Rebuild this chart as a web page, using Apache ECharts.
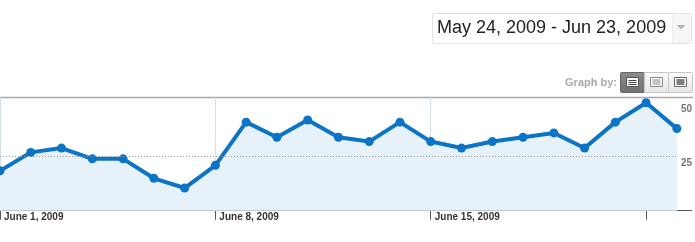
<!DOCTYPE html>
<html>
<head>
<meta charset="utf-8">
<script src="https://cdn.jsdelivr.net/npm/echarts@6/dist/echarts.min.js"></script>
<style>
html,body{margin:0;padding:0;background:#fff;overflow:hidden;}
#c{width:695px;height:242px;}
</style>
</head>
<body>
<div id="c"></div>
<script>
var categories = ['June 1, 2009','June 2, 2009','June 3, 2009','June 4, 2009','June 5, 2009','June 6, 2009','June 7, 2009',
  'June 8, 2009','June 9, 2009','June 10, 2009','June 11, 2009','June 12, 2009','June 13, 2009','June 14, 2009',
  'June 15, 2009','June 16, 2009','June 17, 2009','June 18, 2009','June 19, 2009','June 20, 2009','June 21, 2009',
  'June 22, 2009','June 23, 2009'];
var visits = [18.5, 27, 29, 24, 24, 15, 10.5, 21, 41, 34, 42, 34, 32, 41, 32, 29, 32, 34, 36, 29, 41, 50, 38];
var tickLabels = ['June 1, 2009', 'June 8, 2009', 'June 15, 2009'];
var yTicks = [25, 50];
var dottedLines = [25];
var dateRange = 'May 24, 2009 - Jun 23, 2009';
var graphByLabel = 'Graph by:';

var chart = echarts.init(document.getElementById('c'), null, {renderer: 'canvas'});

var FONT = '"Liberation Sans", Arial, sans-serif';

function listIcon(x, y, frame, fill, lineColor, rows, lw) {
  var els = [{type: 'rect', shape: {x: x, y: y, width: 12, height: 9}, style: {fill: fill, stroke: frame, lineWidth: 1}, z: 10}];
  rows.forEach(function (r) {
    els.push({type: 'line', shape: {x1: x + 2, y1: y + r, x2: x + 10, y2: y + r}, style: {stroke: lineColor, lineWidth: lw}, z: 11});
  });
  return els;
}

var lightGrad = new echarts.graphic.LinearGradient(0, 0, 0, 1, [{offset: 0, color: '#fbfbfb'}, {offset: 1, color: '#e6e6e6'}]);
var darkGrad = new echarts.graphic.LinearGradient(0, 0, 0, 1, [{offset: 0, color: '#8c8c8c'}, {offset: 1, color: '#707070'}]);

var graphics = [
  // date range box
  {type: 'rect', shape: {x: 432.5, y: 13.5, width: 259, height: 30, r: 2}, style: {fill: '#fff', stroke: '#e2e2e2', lineWidth: 1}},
  {type: 'rect', shape: {x: 672.5, y: 14, width: 18.5, height: 29}, style: {fill: '#f6f6f6'}},
  {type: 'line', shape: {x1: 672.5, y1: 14, x2: 672.5, y2: 43}, style: {stroke: '#ececec', lineWidth: 1}},
  {type: 'polygon', shape: {points: [[676.5, 25], [685.5, 25], [681, 29.5]]}, style: {fill: '#b5b5b5'}},
  {type: 'text', x: 437, y: 28, style: {text: dateRange, font: '18px ' + FONT, fill: '#222', textVerticalAlign: 'middle'}},
  // graph by
  {type: 'text', x: 617, y: 83, style: {text: graphByLabel, font: 'bold 11px ' + FONT, fill: '#aaa', textAlign: 'right', textVerticalAlign: 'middle'}},
  {type: 'rect', shape: {x: 620.5, y: 72.5, width: 24, height: 20, r: 1}, style: {fill: darkGrad, stroke: '#666', lineWidth: 1}},
  {type: 'rect', shape: {x: 644.5, y: 72.5, width: 24, height: 20}, style: {fill: lightGrad, stroke: '#c6c6c6', lineWidth: 1}},
  {type: 'rect', shape: {x: 668.5, y: 72.5, width: 24, height: 20, r: 1}, style: {fill: lightGrad, stroke: '#c6c6c6', lineWidth: 1}},
  // top border and bottom axis line
  {type: 'line', shape: {x1: 0, y1: 97.5, x2: 693, y2: 97.5}, style: {stroke: '#a8a8a8', lineWidth: 1.5}},
  {type: 'line', shape: {x1: 0, y1: 210.5, x2: 692, y2: 210.5}, style: {stroke: '#555', lineWidth: 1}}
];
graphics = graphics
  .concat(listIcon(626.5, 77.5, '#555', '#fff', '#444', [3, 5, 7], 1))
  .concat(listIcon(650.5, 77.5, '#888', '#fff', '#888', [2.5, 4.5, 6.5], 1))
  .concat(listIcon(674.5, 77.5, '#666', '#fff', '#555', [2.5, 4.5, 6.5], 1.5));

var option = {
  animation: false,
  grid: {left: 0, right: 17.7, top: 97.3, bottom: 31.3, containLabel: false},
  xAxis: {
    type: 'category',
    data: categories,
    boundaryGap: false,
    axisLine: {show: false},
    axisTick: {show: true, interval: 6, length: 9, lineStyle: {color: '#555', width: 1}},
    splitLine: {show: true, interval: 6, lineStyle: {color: '#d6dfe8', width: 1}},
    axisLabel: {
      interval: 6,
      align: 'left',
      margin: 2,
      padding: [0, 0, 0, 4],
      color: '#333',
      fontFamily: FONT,
      fontWeight: 'bold',
      fontSize: 10,
      formatter: function (v) { return tickLabels.indexOf(v) >= 0 ? v : ''; }
    }
  },
  yAxis: {
    type: 'value',
    position: 'right',
    min: 0,
    max: 52.5,
    interval: 25,
    axisLine: {show: false},
    axisTick: {show: false},
    splitLine: {show: false},
    axisLabel: {
      margin: 4,
      showMinLabel: false,
      showMaxLabel: false,
      verticalAlign: 'top',
      padding: [2, 0, 0, 0],
      color: '#777',
      fontFamily: FONT,
      fontWeight: 'bold',
      fontSize: 10,
      formatter: function (v) { return yTicks.indexOf(v) >= 0 ? String(v) : ''; }
    }
  },
  series: [{
    type: 'line',
    data: visits,
    symbol: 'circle',
    symbolSize: 9,
    lineStyle: {color: '#0b74c6', width: 4},
    itemStyle: {color: '#0b74c6'},
    areaStyle: {color: '#e6f1fa', opacity: 1},
    markLine: {
      silent: true,
      symbol: 'none',
      label: {show: false},
      lineStyle: {color: '#999', type: [1, 2], width: 1},
      data: dottedLines.map(function (v) { return {yAxis: v}; })
    },
    z: 3
  }],
  graphic: graphics
};
chart.setOption(option);
</script>
</body>
</html>
